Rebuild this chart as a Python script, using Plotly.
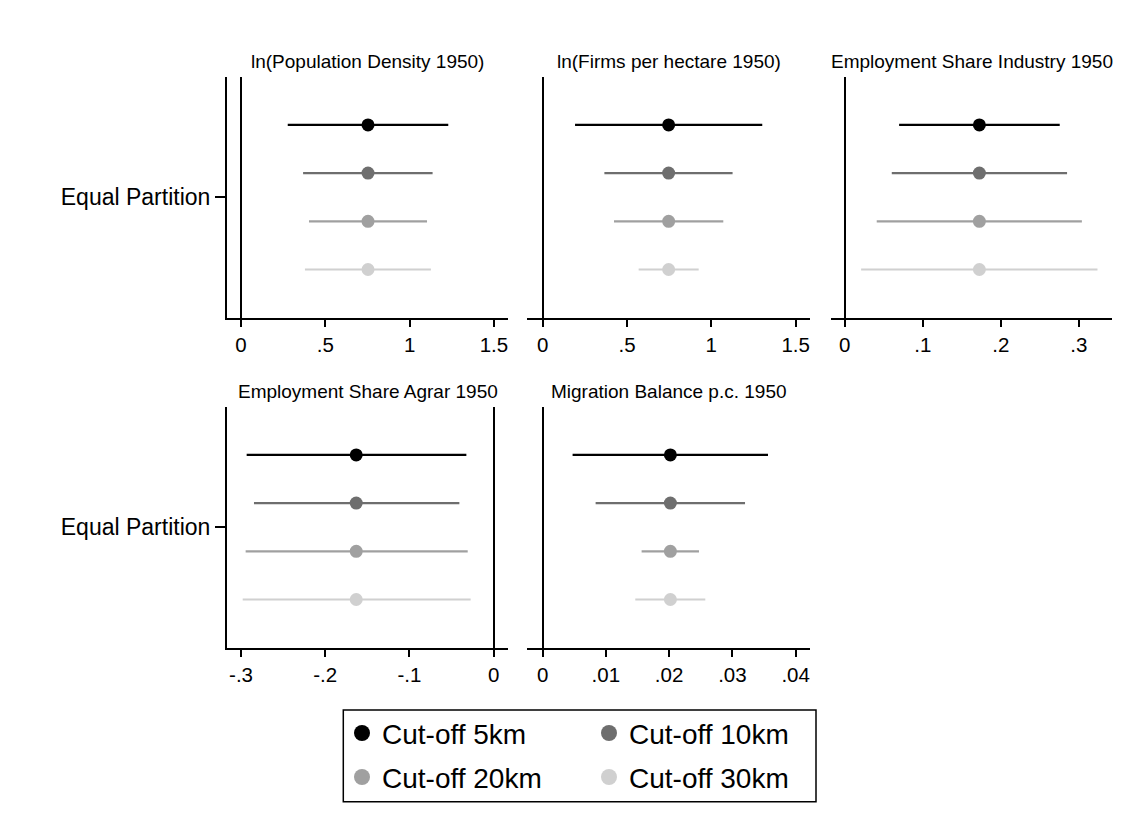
import plotly.graph_objects as go

W, H = 1140, 837
FONT = "Liberation Sans, Arial, sans-serif"

# ---------------- data ----------------
panel_titles = [
    "ln(Population Density 1950)",
    "ln(Firms per hectare 1950)",
    "Employment Share Industry 1950",
    "Employment Share Agrar 1950",
    "Migration Balance p.c. 1950",
]
series_names = ["Cut-off 5km", "Cut-off 10km", "Cut-off 20km", "Cut-off 30km"]
series_colors = ["#000000", "#6e6e6e", "#a0a0a0", "#d0d0d0"]
row_positions = [1, 2, 3, 4]
category_label = "Equal Partition"

# point estimates per panel (one per series)
est_pop = [0.753, 0.753, 0.753, 0.753]
est_firms = [0.747, 0.747, 0.747, 0.747]
est_ind = [0.1726, 0.1726, 0.1726, 0.1726]
est_agr = [-0.1632, -0.1632, -0.1632, -0.1632]
est_mig = [0.0202, 0.0202, 0.0202, 0.0202]

lo_pop = [0.277, 0.368, 0.403, 0.379]
hi_pop = [1.229, 1.136, 1.103, 1.126]
lo_firms = [0.192, 0.366, 0.423, 0.569]
hi_firms = [1.302, 1.126, 1.071, 0.925]
lo_ind = [0.0697, 0.0603, 0.041, 0.021]
hi_ind = [0.2756, 0.285, 0.304, 0.324]
lo_agr = [-0.2933, -0.2846, -0.2945, -0.298]
hi_agr = [-0.0324, -0.0407, -0.0308, -0.0273]
lo_mig = [0.00474, 0.00838, 0.01565, 0.01465]
hi_mig = [0.03563, 0.0320, 0.02472, 0.02572]

tickvals_pop = [0, 0.5, 1, 1.5]
ticktext_pop = ["0", ".5", "1", "1.5"]
tickvals_firms = [0, 0.5, 1, 1.5]
ticktext_firms = ["0", ".5", "1", "1.5"]
tickvals_ind = [0, 0.1, 0.2, 0.3]
ticktext_ind = ["0", ".1", ".2", ".3"]
tickvals_agr = [-0.3, -0.2, -0.1, 0]
ticktext_agr = ["-.3", "-.2", "-.1", "0"]
tickvals_mig = [0, 0.01, 0.02, 0.03, 0.04]
ticktext_mig = ["0", ".01", ".02", ".03", ".04"]

panels = [
    dict(est=est_pop, lo=lo_pop, hi=hi_pop, tv=tickvals_pop, tt=ticktext_pop,
         xr=[-0.085, 1.585], box=(226.7, 508.3, 76.7, 317.7), ylab=True),
    dict(est=est_firms, lo=lo_firms, hi=hi_firms, tv=tickvals_firms, tt=ticktext_firms,
         xr=[-0.091, 1.585], box=(527.3, 810.0, 76.7, 317.7), ylab=False),
    dict(est=est_ind, lo=lo_ind, hi=hi_ind, tv=tickvals_ind, tt=ticktext_ind,
         xr=[-0.018, 0.343], box=(830.7, 1112.3, 76.7, 317.7), ylab=False),
    dict(est=est_agr, lo=lo_agr, hi=hi_agr, tv=tickvals_agr, tt=ticktext_agr,
         xr=[-0.317, 0.0174], box=(226.7, 508.3, 406.7, 647.7), ylab=True),
    dict(est=est_mig, lo=lo_mig, hi=hi_mig, tv=tickvals_mig, tt=ticktext_mig,
         xr=[-0.00242, 0.04227], box=(527.3, 810.0, 406.7, 647.7), ylab=False),
]

fig = go.Figure()
annotations = []

for i, p in enumerate(panels):
    k = "" if i == 0 else str(i + 1)
    xa, ya = "x" + k, "y" + k
    x0, x1, y0, y1 = p["box"]
    for j in range(4):
        fig.add_trace(go.Scatter(
            x=[p["est"][j]], y=[row_positions[j]],
            xaxis=xa, yaxis=ya, mode="markers",
            marker=dict(color=series_colors[j], size=13, line=dict(width=0)),
            error_x=dict(type="data", symmetric=False,
                         array=[p["hi"][j] - p["est"][j]],
                         arrayminus=[p["est"][j] - p["lo"][j]],
                         color=series_colors[j], thickness=2.2, width=0),
            showlegend=False, hoverinfo="skip", cliponaxis=False,
        ))
    fig.layout["xaxis" + k] = dict(
        domain=[x0 / W, x1 / W], anchor=ya, range=p["xr"],
        tickvals=p["tv"], ticktext=p["tt"],
        showline=True, linecolor="black", linewidth=1.5,
        ticks="outside", ticklen=8, tickwidth=1.5, tickcolor="black",
        showgrid=False, zeroline=True, zerolinecolor="black", zerolinewidth=2,
        tickfont=dict(family=FONT, size=20.5, color="black"), fixedrange=True,
    )
    fig.layout["yaxis" + k] = dict(
        domain=[1 - y1 / H, 1 - y0 / H], anchor=xa, range=[5, 0],
        tickvals=[2.5], ticktext=[category_label] if p["ylab"] else [""],
        showline=p["ylab"], linecolor="black", linewidth=1.5,
        ticks="outside" if p["ylab"] else "", ticklen=10, tickwidth=1.5, tickcolor="black",
        showgrid=False, zeroline=False,
        tickfont=dict(family=FONT, size=23, color="black"), fixedrange=True,
    )
    annotations.append(dict(
        text=panel_titles[i], x=(x0 + x1) / 2 / W, y=1 - (y0 - 3) / H,
        xref="paper", yref="paper", xanchor="center", yanchor="bottom",
        showarrow=False, font=dict(family=FONT, size=19, color="black"),
    ))

# legend entries
for j in range(4):
    fig.add_trace(go.Scatter(
        x=[None], y=[None], mode="markers", name=series_names[j],
        marker=dict(color=series_colors[j], size=16),
        legend="legend" if j < 2 else "legend2", showlegend=True,
    ))

leg_common = dict(orientation="h", xanchor="left", yanchor="middle",
                  bgcolor="rgba(0,0,0,0)", borderwidth=0,
                  font=dict(family=FONT, size=28, color="black"),
                  entrywidth=202, entrywidthmode="pixels", itemclick=False,
                  itemdoubleclick=False)
fig.update_layout(
    legend=dict(x=342 / W, y=1 - 733.3 / H, **leg_common),
    legend2=dict(x=342 / W, y=1 - 777.3 / H, **leg_common),
)

fig.update_layout(
    width=W, height=H, margin=dict(l=0, r=0, t=0, b=0),
    paper_bgcolor="white", plot_bgcolor="white",
    annotations=annotations,
    shapes=[dict(type="rect", xref="paper", yref="paper",
                 x0=343.3 / W, x1=816 / W, y0=1 - 801.7 / H, y1=1 - 710 / H,
                 line=dict(color="black", width=1.5), fillcolor="rgba(0,0,0,0)")],
    font=dict(family=FONT),
)

fig.write_html("out.html", config={"displayModeBar": False})
